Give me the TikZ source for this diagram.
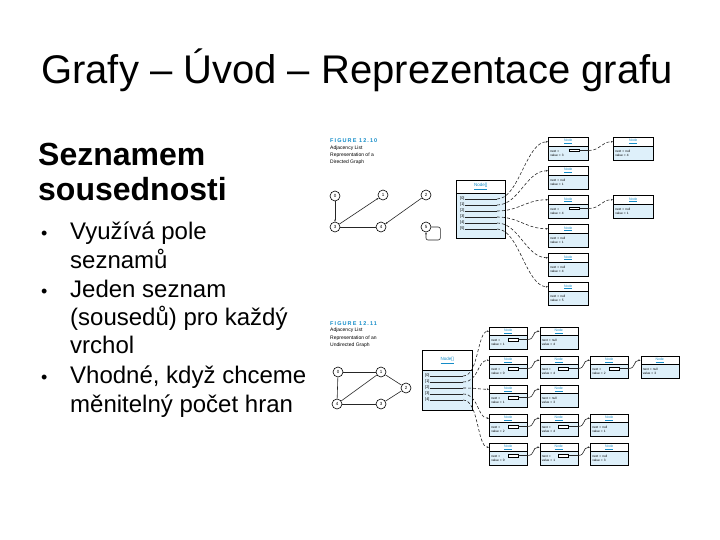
\documentclass[tikz,border=0pt]{standalone}
\usepackage{fontspec}
\setmainfont{Liberation Sans}
\newfontfamily\figfont[LetterSpace=20]{Liberation Sans}
\usetikzlibrary{arrows.meta}

\definecolor{figmodra}{RGB}{20,140,200}
\definecolor{svetla}{RGB}{222,240,250}

\tikzset{
  nadpis/.style={anchor=base, inner sep=0pt, font=\fontsize{40}{48}\selectfont},
  podnadpis/.style={anchor=base west, inner sep=0pt, font=\fontsize{32}{36}\selectfont\bfseries},
  radek/.style={anchor=base west, inner sep=0pt, font=\fontsize{24}{28}\selectfont},
  odrazka/.style={anchor=base west, inner sep=0pt, font=\fontsize{18}{20}\selectfont},
  cislo/.style={anchor=north west, inner sep=0pt, text=figmodra, font={\figfont\bfseries\fontsize{5.5}{6}\selectfont}},
  popisek/.style={anchor=north west, inner sep=0pt, align=left, font=\fontsize{5}{7.3}\selectfont},
  cara/.style={line width=0.6pt, black!85},
  vrchol/.style={circle, draw, line width=0.6pt, inner sep=0pt, minimum size=10pt, fill=white, font=\fontsize{4.5}{5}\selectfont},
  sipka/.style={line width=0.6pt, black!85, -{Stealth[length=2.2pt,width=1.8pt]}},
  polehlava/.style={draw, line width=0.5pt, anchor=north west, inner sep=0pt, text=figmodra, font=\fontsize{4.5}{5}\selectfont},
  poletelo/.style={draw, line width=0.5pt, fill=svetla, anchor=north west, inner sep=0pt},
  indexpole/.style={anchor=west, inner sep=0pt, font=\fontsize{3.8}{4}\selectfont},
  hlava/.style={draw, line width=0.5pt, anchor=north west, minimum width=38pt, minimum height=8pt, inner sep=0pt, text=figmodra, font=\fontsize{3.5}{4}\selectfont},
  telo/.style={draw, line width=0.5pt, fill=svetla, anchor=north west, text width=34pt, inner xsep=2pt, inner ysep=1pt, minimum height=14pt, align=left, font=\fontsize{3.2}{4.5}\selectfont},
  ukazatel/.style={draw, line width=0.5pt, fill=white, minimum width=10pt, minimum height=2.5pt, inner sep=0pt},
}

\begin{document}
\begin{tikzpicture}[x=1pt, y=-1pt]
  \useasboundingbox (0,0) rectangle (720,540);

  % --- NADPIS ---
  \node[nadpis] (titulek) at (357,84) {Grafy – Úvod – Reprezentace grafu};

  % --- TEXT (vlevo) ---
  \node[podnadpis] (pn1) at (38,166) {Seznamem};
  \node[podnadpis] (pn2) at (38,201) {sousednosti};
  \foreach \y/\t in {240/{Využívá pole}, 268/{seznamů}, 297/{Jeden seznam}, 325/{(sousedů) pro každý}, 353/{vrchol}, 383/{Vhodné, když chceme}, 412/{měnitelný počet hran}} {
    \node[radek] (r\y) at (70,\y) {\t};
  }
  \foreach \y in {240, 297, 383} {
    \node[odrazka] (o\y) at (41,\y) {•};
  }

  % --- FIGURE 12.10 (nahore) ---
  \node[cislo] (c1) at (330,138) {FIGURE 12.10};
  \node[popisek] (p1) at (330,145.5) {Adjacency List\\Representation of a\\Directed Graph};

  % orientovany graf
  \node[vrchol] (a0) at (335,196) {0};
  \node[vrchol] (a1) at (383,195) {1};
  \node[vrchol] (a2) at (426,195) {2};
  \node[vrchol] (a3) at (335,227) {3};
  \node[vrchol] (a4) at (381,227) {4};
  \node[vrchol] (a5) at (426,227) {5};
  \draw[sipka] (a0) -- (a3);
  \draw[sipka] (a3) -- (a1);
  \draw[cara] (a3) -- (a4);
  \draw[sipka] (a2) -- (a4);
  \draw[sipka, rounded corners=2pt] (a5.east) -- ++(9,0) -- ++(0,13) -| (a5.south);

  % pole Node[]
  \node[polehlava, minimum width=49pt, minimum height=13pt] (pa) at (456,180) {\underline{Node[]}};
  \node[poletelo, minimum width=49pt, minimum height=45pt] (pat) at (456,193) {};
  \foreach \i in {0,...,5} {
    \node[indexpole] (ia\i) at (460,199+6*\i) {[\i]};
    \coordinate (sa\i) at (497,199+6*\i);
    \draw[cara] (ia\i.east) -- (sa\i);
  }

  % seznamy
  \foreach \r/\n/\hodnoty in {1/2/{3,4}, 2/1/{1}, 3/2/{4,1}, 4/1/{1}, 5/1/{4}, 6/1/{5}} {
    \foreach \v [count=\c] in \hodnoty {
      \pgfmathsetmacro{\x}{548+65*(\c-1)}
      \pgfmathsetmacro{\y}{137+29*(\r-1)}
      \node[hlava, minimum width=40pt, minimum height=9pt] (ah\r-\c) at (\x,\y) {\underline{Node}};
      \node[telo, text width=36pt] (at\r-\c) at (\x,\y+9) {\ifnum\c<\n next =\else next = null\fi\\value = \v};
      \ifnum\c<\n
        \node[ukazatel] (ua\r-\c) at (\x+26,\y+13.5) {};
        \coordinate (ka\r-\c) at (at\r-\c.east |- ua\r-\c);
        \draw[cara] (ua\r-\c) -- (ka\r-\c);
      \fi
      \ifnum\c>1
        \pgfmathtruncatemacro{\p}{\c-1}
        \draw[sipka, densely dashed] (ka\r-\p) .. controls +(12,0) and +(-12,0) .. (ah\r-\c.west);
      \fi
    }
  }
  \foreach \i in {0,...,5} {
    \pgfmathtruncatemacro{\r}{\i+1}
    \draw[sipka, densely dashed] (sa\i) .. controls +(22,0) and +(-22,0) .. (ah\r-1.west);
  }

  % --- FIGURE 12.11 (dole) ---
  \node[cislo] (c2) at (330,321) {FIGURE 12.11};
  \node[popisek] (p2) at (330,328) {Adjacency List\\Representation of an\\Undirected Graph};

  % neorientovany graf
  \node[vrchol] (b0) at (338,372) {0};
  \node[vrchol] (b1) at (381,372) {1};
  \node[vrchol] (b2) at (406,388) {2};
  \node[vrchol] (b3) at (381,404) {3};
  \node[vrchol] (b4) at (337,404) {4};
  \draw[cara] (b0) -- (b1);
  \draw[cara] (b0) -- (b4);
  \draw[cara] (b1) -- (b4);
  \draw[cara] (b1) -- (b2);
  \draw[cara] (b2) -- (b3);
  \draw[cara] (b4) -- (b3);

  % pole Node[]
  \node[polehlava, minimum width=50pt, minimum height=20pt] (pb) at (422,350) {\underline{Node[]}};
  \node[poletelo, minimum width=50pt, minimum height=40pt] (pbt) at (422,370) {};
  \foreach \i in {0,...,4} {
    \node[indexpole] (ib\i) at (425,376+6*\i) {[\i]};
    \coordinate (sb\i) at (463,376+6*\i);
    \draw[cara] (ib\i.east) -- (sb\i);
  }

  % seznamy
  \foreach \r/\n/\hodnoty in {1/2/{1,4}, 2/4/{0,4,2,3}, 3/2/{1,3}, 4/3/{2,4,1}, 5/3/{0,1,3}} {
    \foreach \v [count=\c] in \hodnoty {
      \pgfmathsetmacro{\x}{489+50.5*(\c-1)}
      \pgfmathsetmacro{\y}{327+29*(\r-1)}
      \node[hlava] (bh\r-\c) at (\x,\y) {\underline{Node}};
      \node[telo] (bt\r-\c) at (\x,\y+8) {\ifnum\c<\n next =\else next = null\fi\\value = \v};
      \ifnum\c<\n
        \node[ukazatel] (ub\r-\c) at (\x+24,\y+12.5) {};
        \coordinate (kb\r-\c) at (bt\r-\c.east |- ub\r-\c);
        \draw[cara] (ub\r-\c) -- (kb\r-\c);
      \fi
      \ifnum\c>1
        \pgfmathtruncatemacro{\p}{\c-1}
        \draw[sipka] (kb\r-\p) .. controls +(8,0) and +(-8,0) .. (bh\r-\c.west);
      \fi
    }
  }
  \foreach \i in {0,...,4} {
    \pgfmathtruncatemacro{\r}{\i+1}
    \draw[sipka, densely dashed] (sb\i) .. controls +(16,0) and +(-12,0) .. (bh\r-1.west);
  }
\end{tikzpicture}
\end{document}
